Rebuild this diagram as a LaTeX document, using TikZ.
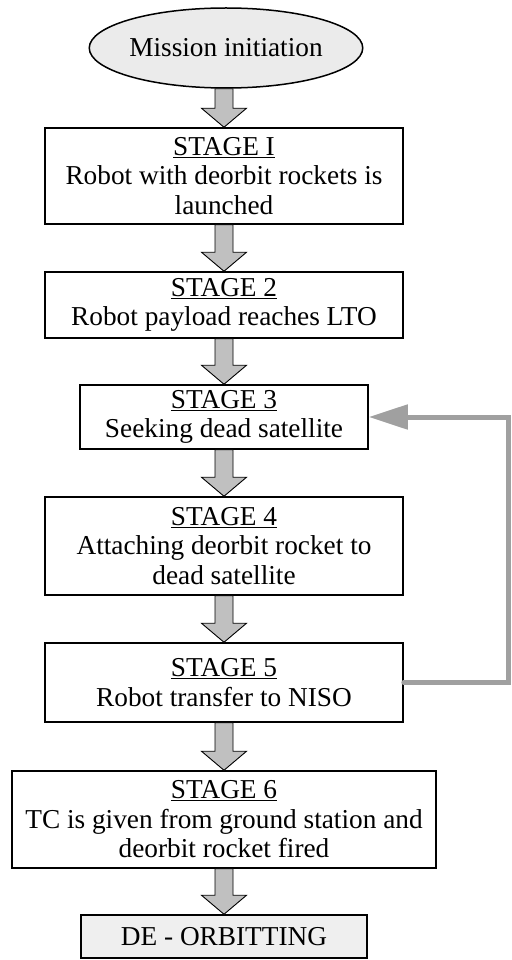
\documentclass[tikz,border=0pt]{standalone}
\usepackage{fontspec}
\setmainfont{Liberation Serif}
\usetikzlibrary{arrows.meta,calc,shapes.geometric}
\definecolor{arrgray}{HTML}{C0C0C0}
\definecolor{fbgray}{HTML}{A0A0A0}
\definecolor{elfill}{HTML}{EBEBEB}
\definecolor{defill}{HTML}{EFEFEF}
\tikzset{
  stagebox/.style={draw=black, line width=1.5pt, fill=white, inner sep=0pt,
    align=center, font=\fontsize{27.3}{29.5}\selectfont},
  blockarrow/.style={draw=black, line width=0.9pt, fill=arrgray, line join=miter},
  feedback/.style={draw=fbgray, line width=5pt, line join=miter, line cap=round,
    -{Triangle[length=39pt,width=24pt]}}
}
\newcommand\blkarrow[2]{%
  \path[blockarrow] let \p1=(#1.south), \p2=(#2.north) in
    (\x2-9pt,\y1) -- (\x2+9pt,\y1) -- (\x2+9pt,\y2+19pt) -- (\x2+22.5pt,\y2+19pt)
    -- (\x2,\y2) -- (\x2-22.5pt,\y2+19pt) -- (\x2-9pt,\y2+19pt) -- cycle;}
\begin{document}
\begin{tikzpicture}[x=1pt,y=-1pt]
\useasboundingbox (0,0) rectangle (511,960);
\fill[white] (0,0) rectangle (511,960);

\node[ellipse, draw=black, line width=1.5pt, fill=elfill, inner sep=0pt,
  minimum width=250pt, minimum height=80pt,
  font=\fontsize{27.3}{29.5}\selectfont] (start) at (226,48) {Mission initiation};

\node[stagebox, minimum width=358pt, minimum height=96pt] (s1) at (224,176)
  {\underline{STAGE I}\\Robot with deorbit rockets is\\launched};
\node[stagebox, minimum width=358pt, minimum height=66pt] (s2) at (224,305)
  {\underline{STAGE 2}\\Robot payload reaches LTO};
\node[stagebox, minimum width=288pt, minimum height=64pt] (s3) at (224,417)
  {\underline{STAGE 3}\\Seeking dead satellite};
\node[stagebox, minimum width=358pt, minimum height=98pt] (s4) at (224,546)
  {\underline{STAGE 4}\\Attaching deorbit rocket to\\dead satellite};
\node[stagebox, minimum width=358pt, minimum height=79pt] (s5) at (224,682.5)
  {\underline{STAGE 5}\\Robot transfer to NISO};
\node[stagebox, minimum width=424pt, minimum height=97pt] (s6) at (224,819.5)
  {\underline{STAGE 6}\\TC is given from ground station and\\deorbit rocket fired};
\node[stagebox, fill=defill, minimum width=286pt, minimum height=43pt] (de) at (224,936.5)
  {DE - ORBITTING};

\blkarrow{start}{s1}
\blkarrow{s1}{s2}
\blkarrow{s2}{s3}
\blkarrow{s3}{s4}
\blkarrow{s4}{s5}
\blkarrow{s5}{s6}
\blkarrow{s6}{de}

\coordinate (fbx) at (508,0);
\draw[feedback] (s5.east) -- (s5.east -| fbx) -- (s3.east -| fbx) -- (s3.east);
\end{tikzpicture}
\end{document}
